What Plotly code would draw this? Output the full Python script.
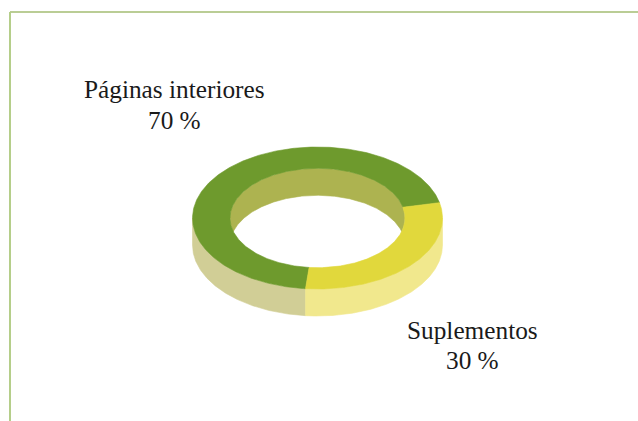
import numpy as np
import plotly.graph_objects as go

categories = ["Páginas interiores", "Suplementos"]
values = [70, 30]
top_colors = ["#6E9A2D", "#E1D83C"]
side_colors = ["#D1CE96", "#F1E88D"]
inner_wall_color = "#ADB350"
label_x = [174, 472]
name_y = [89, 330]
pct_y = [120, 360]
START_ANGLE = 12.5
CX, CY, RX, RY, DEPTH, HOLE = 317.5, 218.0, 125.0, 71.0, 27.0, 0.70
FONT = "Liberation Serif"
FRAME_TOP = "#A3BD72"
FRAME_LEFT = "#B5CE8A"


def arc(a0, a1, rx, ry, dy=0.0):
    t = np.radians(np.linspace(a0, a1, max(2, int(abs(a1 - a0)) * 2)))
    return CX + rx * np.cos(t), CY + dy - ry * np.sin(t)


def poly(x0, y0, x1, y1, color):
    return go.Scatter(
        x=np.r_[x0, x1[::-1], x0[:1]], y=np.r_[y0, y1[::-1], y0[:1]],
        mode="lines", fill="toself", fillcolor=color,
        line=dict(width=0.6, color=color), hoverinfo="skip", showlegend=False,
    )


spans = []
a = START_ANGLE
for v in values:
    b = a + 360.0 * v / sum(values)
    spans.append((a, b))
    a = b

fig = go.Figure()

# outer side wall, front half only
for (a0, a1), col in zip(spans, side_colors):
    lo, hi = max(a0, 180.0), min(a1, 360.0)
    if hi > lo:
        x0, y0 = arc(lo, hi, RX, RY)
        x1, y1 = arc(lo, hi, RX, RY, DEPTH)
        fig.add_trace(poly(x0, y0, x1, y1, col))

# inner wall seen through the hole
irx, iry = RX * HOLE, RY * HOLE
cross = np.degrees(np.arcsin(DEPTH / 2 / iry))
x0, y0 = arc(-cross, 180 + cross, irx, iry)
x1, y1 = arc(cross, 180 - cross, irx, iry, DEPTH)
fig.add_trace(poly(x0, y0, x1, y1, inner_wall_color))

# top surface of the ring
for (a0, a1), col in zip(spans, top_colors):
    x0, y0 = arc(a0, a1, RX, RY)
    x1, y1 = arc(a0, a1, irx, iry)
    fig.add_trace(poly(x0, y0, x1, y1, col))

text_font = dict(family=FONT, size=25.3, color="#1a1a1a")
for name, v, x, y0, y1 in zip(categories, values, label_x, name_y, pct_y):
    fig.add_annotation(x=x, y=y0, text=name, showarrow=False, xanchor="center", yanchor="middle", font=text_font)
    fig.add_annotation(x=x, y=y1, text=f"{v} %", showarrow=False, xanchor="center", yanchor="middle", font=text_font)

fig.add_shape(type="line", x0=10, x1=638, y0=12, y1=12, line=dict(color=FRAME_TOP, width=1.5))
fig.add_shape(type="line", x0=10, x1=10, y0=12, y1=421, line=dict(color=FRAME_LEFT, width=2))

fig.update_layout(
    width=638, height=421, margin=dict(l=0, r=0, t=0, b=0),
    paper_bgcolor="white", plot_bgcolor="white", showlegend=False,
    xaxis=dict(range=[0, 638], visible=False, fixedrange=True),
    yaxis=dict(range=[421, 0], visible=False, fixedrange=True),
)
fig.write_html(
    "out.html", config={"displayModeBar": False},
    post_script="document.body.style.margin='0';document.documentElement.style.overflow='hidden';",
)
